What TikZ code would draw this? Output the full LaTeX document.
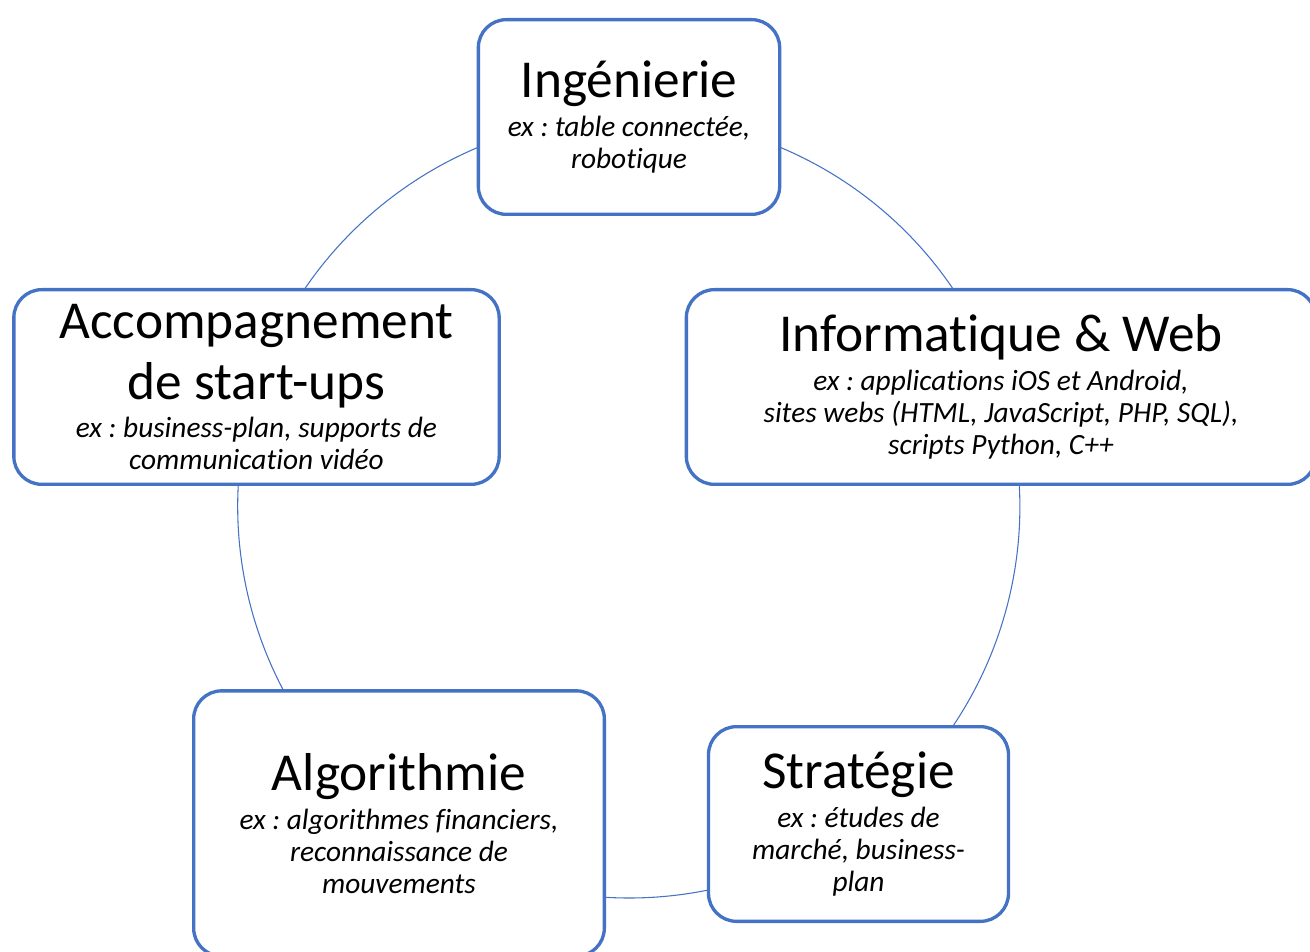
\documentclass[tikz,border=0pt]{standalone}
\usepackage{fontspec}
\setmainfont{Carlito}[RawFeature={-liga;-calt;-clig;-dlig}]
\usetikzlibrary{backgrounds}
\definecolor{ringblue}{HTML}{4472C4}
\newcommand{\poletitle}[1]{{\upshape\fontsize{40}{44}\selectfont #1}}
\frenchspacing

\begin{document}
\begin{tikzpicture}[x=0.75pt,y=0.75pt,
    pole/.style={draw=ringblue, line width=2.5pt, rounded corners=21pt, fill=white,
                 align=center, inner sep=0pt, font=\fontsize{22}{24}\selectfont\itshape},
    ring/.style={draw=ringblue, line width=0.8pt, looseness=0.94}]
    \useasboundingbox (0,0) rectangle (1310,951);
                % Poles
                \node [pole, minimum width=226pt, minimum height=146pt] (ing) at (629, 834)
                    {\poletitle{Ingénierie}\\[5pt]
                     ex : table connectée,\\ robotique};
                \node [pole, minimum width=472pt, minimum height=146pt] (info) at (1001, 564)
                    {\poletitle{Informatique \& Web}\\[5pt]
                     ex : applications iOS et Android,\\
                     sites webs (HTML, JavaScript, PHP, SQL),\\
                     scripts Python, C++};
                \node [pole, minimum width=225pt, minimum height=146pt] (strat) at (858.5, 127)
                    {\poletitle{Stratégie}\\[5pt]
                     ex : études de\\ marché, business-\\ plan};
                \node [pole, minimum width=308pt, minimum height=199pt] (algo) at (399, 127.5)
                    {\poletitle{Algorithmie}\\[5pt]
                     ex : algorithmes financiers,\\ reconnaissance de\\ mouvements};
                \node [pole, minimum width=364pt, minimum height=146pt] (acc) at (256.5, 564)
                    {\poletitle{Accompagnement}\\[10pt] \poletitle{de start-ups}\\[5pt]
                     ex : business-plan, supports de\\ communication vidéo};
                % Cycle
                \begin{scope}[on background layer]
                \draw [ring] (ing.center) to [bend left=36] (info.center);
                \draw [ring] (info.center) to [bend left=36] (strat.center);
                \draw [ring] (strat.center) to [bend left=36] (algo.center);
                \draw [ring] (algo.center) to [bend left=36] (acc.center);
                \draw [ring] (acc.center) to [bend left=36] (ing.center);
                \end{scope}
\end{tikzpicture}
\end{document}
